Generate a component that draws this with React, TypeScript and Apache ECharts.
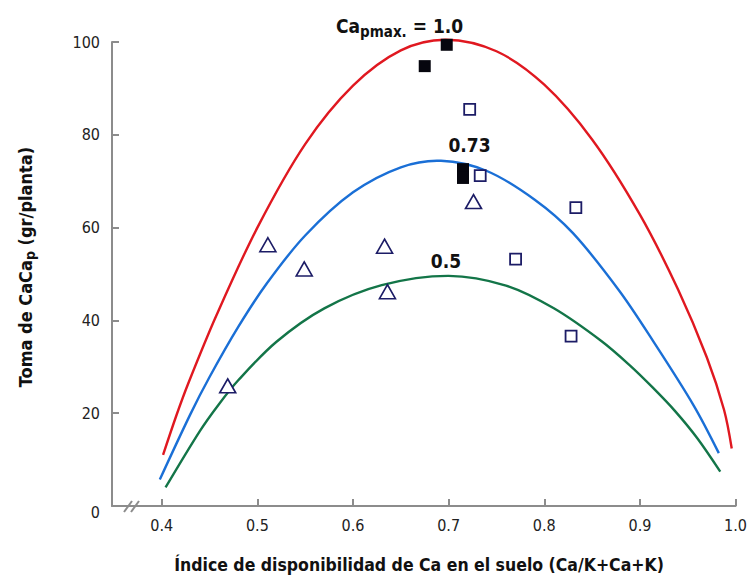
import React, { useEffect, useRef } from "react";
import * as echarts from "echarts";

const xTickValues = [0.4, 0.5, 0.6, 0.7, 0.8, 0.9, 1.0];
const yTickValues = [0, 20, 40, 60, 80, 100];

// Fitted curves: [Ca index, uptake]
const curveMax: [number, number][] = [
  [0.4014, 11.0], [0.4153, 19.5], [0.4275, 26.3], [0.457, 41.0], [0.50, 60.0],
  [0.55, 78.0], [0.60, 90.6], [0.65, 98.2], [0.697, 100.5], [0.75, 98.0],
  [0.80, 90.8], [0.85, 79.0], [0.90, 62.8], [0.94, 46.6], [0.97, 32.0],
  [0.988, 20.7], [0.996, 12.4],
];
const curve073: [number, number][] = [
  [0.398, 5.7], [0.43, 19.8], [0.45, 27.8], [0.48, 38.6], [0.51, 48.0],
  [0.55, 58.3], [0.60, 67.6], [0.65, 73.0], [0.692, 74.4], [0.74, 72.2],
  [0.79, 66.0], [0.83, 58.8], [0.878, 46.5], [0.913, 35.8], [0.9564, 21.6],
  [0.9825, 11.4],
];
const curve05: [number, number][] = [
  [0.404, 4.0], [0.44, 16.2], [0.46, 22.0], [0.48, 27.1], [0.52, 35.4],
  [0.57, 42.6], [0.63, 47.6], [0.70, 49.6], [0.76, 47.5], [0.81, 42.6],
  [0.86, 35.5], [0.89, 30.2], [0.913, 25.6], [0.937, 20.4], [0.96, 14.6],
  [0.984, 7.4],
];

// Observations
const filledSquares: [number, number][] = [
  [0.675, 94.8], [0.698, 99.4], [0.715, 72.6], [0.715, 70.7],
];
const openSquares: [number, number][] = [
  [0.722, 85.5], [0.733, 71.2], [0.833, 64.3], [0.770, 53.2], [0.828, 36.6],
];
const triangles: [number, number][] = [
  [0.511, 56.3], [0.549, 51.1], [0.633, 56.0], [0.636, 46.2], [0.469, 25.9],
  [0.726, 65.6],
];

const NARROW = "'Liberation Sans Narrow', 'Arial Narrow', 'DejaVu Sans Condensed', 'Liberation Sans', sans-serif";
const AXIS_GRAY = "#8c8c8c";
const NAVY = "#1c1c66";

export default function App() {
  const ref = useRef<HTMLDivElement>(null);
  useEffect(() => {
    if (!ref.current) return;
    const chart = echarts.init(ref.current, undefined, { renderer: "svg" });
    const curveSeries = (data: [number, number][], color: string) => ({
      type: "custom",
      data,
      clip: false,
      z: 2,
      renderItem: (params: any, api: any) => {
        if (params.dataIndex !== 0) return null;
        const pts = data.map((p) => api.coord(p));
        return {
          type: "polyline",
          shape: { points: pts, smooth: 0.33 },
          style: { stroke: color, lineWidth: 2.4, fill: "none" },
          silent: true,
        };
      },
    });
    chart.setOption({
      animation: false,
      backgroundColor: "#ffffff",
      grid: { left: 112, right: 13, top: 42, bottom: 72 },
      xAxis: {
        type: "value",
        min: 0.348,
        max: 1.0,
        axisLine: { show: true, onZero: false, lineStyle: { color: AXIS_GRAY, width: 2 } },
        axisTick: { show: true, inside: true, length: 7, customValues: xTickValues, lineStyle: { color: AXIS_GRAY, width: 2 } },
        axisLabel: {
          customValues: xTickValues,
          formatter: (v: number) => v.toFixed(1),
          color: "#222",
          fontSize: 16,
          fontFamily: NARROW,
          margin: 11,
        },
        splitLine: { show: false },
      },
      yAxis: {
        type: "value",
        min: 0,
        max: 100,
        interval: 20,
        axisLine: { show: true, onZero: false, lineStyle: { color: AXIS_GRAY, width: 2 } },
        axisTick: { show: true, inside: true, length: 7, lineStyle: { color: AXIS_GRAY, width: 2 } },
        axisLabel: {
          customValues: yTickValues,
          formatter: (v: number) => (v === 0 ? "{z|0}" : String(v)),
          rich: { z: { fontSize: 16, fontFamily: NARROW, color: "#222", padding: [12, 0, 0, 0] } },
          color: "#222",
          fontSize: 16,
          fontFamily: NARROW,
          margin: 12,
        },
        splitLine: { show: false },
      },
      series: [
        curveSeries(curveMax, "#e01820"),
        curveSeries(curve073, "#1a6fd6"),
        curveSeries(curve05, "#137548"),
        {
          type: "scatter",
          data: filledSquares,
          symbol: "rect",
          symbolSize: 12,
          itemStyle: { color: "#06060e", opacity: 1 },
          z: 3,
        },
        {
          type: "scatter",
          data: openSquares,
          symbol: "rect",
          symbolSize: 11,
          itemStyle: { color: "#ffffff", borderColor: NAVY, borderWidth: 1.8, opacity: 1 },
          z: 3,
        },
        {
          type: "scatter",
          data: triangles,
          symbol: "triangle",
          symbolSize: [16, 14],
          itemStyle: { color: "#ffffff", borderColor: NAVY, borderWidth: 1.6, opacity: 1 },
          z: 3,
        },
      ],
      graphic: [
        // axis break marks
        { type: "line", shape: { x1: 124, y1: 512, x2: 132, y2: 501 }, style: { stroke: AXIS_GRAY, lineWidth: 2 }, z: 10 },
        { type: "line", shape: { x1: 131, y1: 512, x2: 139, y2: 501 }, style: { stroke: AXIS_GRAY, lineWidth: 2 }, z: 10 },
        {
          type: "text",
          x: 336,
          y: 26,
          style: {
            text: "{a|Ca}{s|pmax.}{a| = 1.0}",
            align: "left",
            verticalAlign: "middle",
            rich: {
              a: { fontSize: 19, fontWeight: "bold", fontFamily: NARROW, fill: "#111", lineHeight: 26 },
              s: { fontSize: 15, fontWeight: "bold", fontFamily: NARROW, fill: "#111", lineHeight: 26, verticalAlign: "bottom" },
            },
          },
          z: 10,
        },
        {
          type: "text",
          x: 469.5,
          y: 145,
          style: { text: "0.73", fontSize: 19, fontWeight: "bold", fontFamily: NARROW, fill: "#111", align: "center", verticalAlign: "middle" },
          z: 10,
        },
        {
          type: "text",
          x: 446,
          y: 261,
          style: { text: "0.5", fontSize: 19, fontWeight: "bold", fontFamily: NARROW, fill: "#111", align: "center", verticalAlign: "middle" },
          z: 10,
        },
        {
          type: "text",
          x: 419,
          y: 565,
          style: {
            text: "Índice de disponibilidad de Ca en el suelo (Ca/K+Ca+K)",
            fontSize: 17.5,
            fontWeight: "bold",
            fontFamily: NARROW,
            fill: "#111",
            align: "center",
            verticalAlign: "middle",
          },
          z: 10,
        },
        {
          type: "text",
          x: 25,
          y: 267,
          rotation: Math.PI / 2,
          style: {
            text: "{a|Toma de CaCa}{s|p}{a| (gr/planta)}",
            align: "center",
            verticalAlign: "middle",
            rich: {
              a: { fontSize: 18, fontWeight: "bold", fontFamily: NARROW, fill: "#111", lineHeight: 24 },
              s: { fontSize: 14, fontWeight: "bold", fontFamily: NARROW, fill: "#111", lineHeight: 24, verticalAlign: "bottom" },
            },
          },
          z: 10,
        },
      ],
    });
    return () => chart.dispose();
  }, []);
  return <div ref={ref} style={{ width: 750, height: 578, position: "absolute", left: 0, top: 0 }} />;
}
